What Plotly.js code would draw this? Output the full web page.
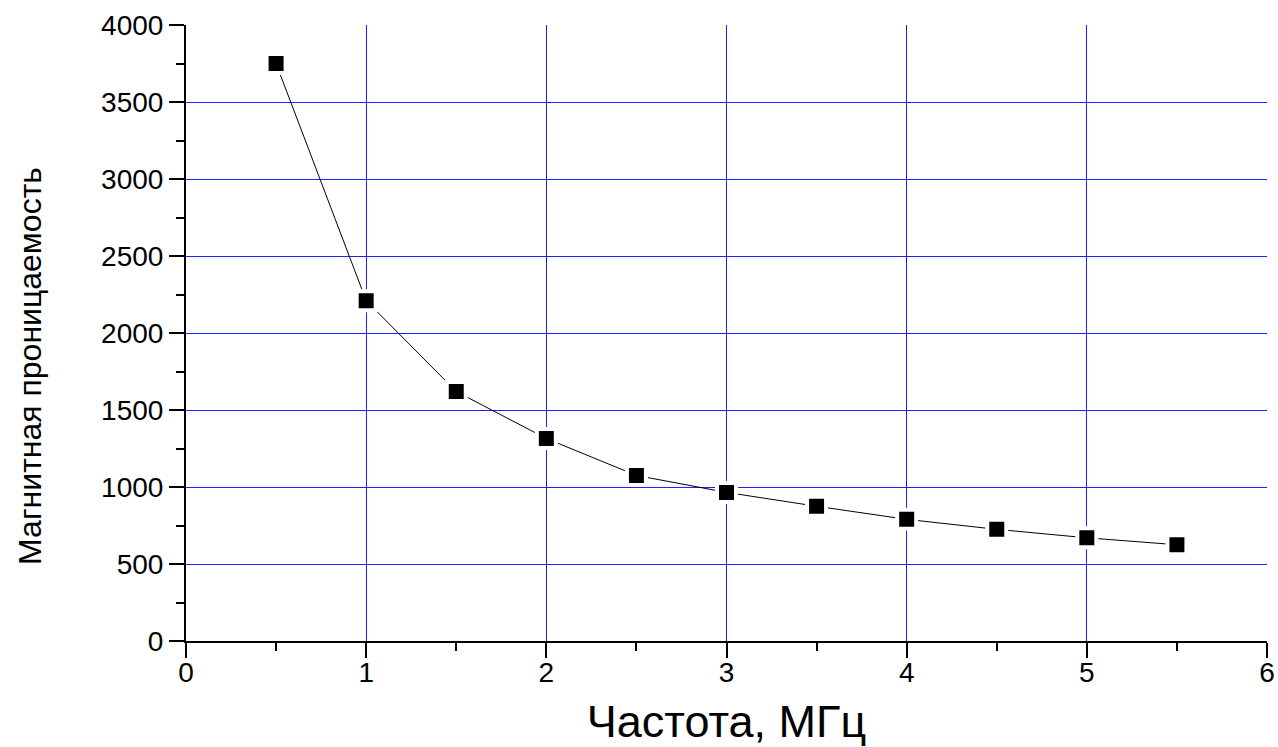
<!DOCTYPE html>
<html><head><meta charset="utf-8">
<script src="https://cdn.plot.ly/plotly-3.0.1.min.js"></script>
<style>html,body{margin:0;padding:0;background:#fff}#chart{width:1278px;height:747px}</style>
</head><body><div id="chart"></div>
<script>
const frequency = [0.5, 1.0, 1.5, 2.0, 2.5, 3.0, 3.5, 4.0, 4.5, 5.0, 5.5];
const permeability = [3750, 2210, 1620, 1315, 1075, 965, 875, 790, 725, 670, 625];
const xTitle = 'Частота, МГц';
const yTitle = 'Магнитная проницаемость';

const font = '"Liberation Sans", Arial, sans-serif';
Plotly.newPlot('chart', [{
  x: frequency, y: permeability, type: 'scatter', mode: 'lines+markers',
  line: {color: '#000', width: 1},
  marker: {symbol: 'square', size: 19, color: '#000', line: {color: '#fff', width: 4}},
  cliponaxis: false, showlegend: false
}], {
  width: 1278, height: 747,
  margin: {l: 186, r: 11, t: 25, b: 106},
  paper_bgcolor: '#fff', plot_bgcolor: '#fff',
  xaxis: {
    range: [0, 6], dtick: 1, tick0: 0, showgrid: true, gridcolor: '#2020ff', gridwidth: 1,
    zeroline: false, showline: true, linecolor: '#000', linewidth: 2,
    ticks: 'outside', ticklen: 15, tickwidth: 2, tickcolor: '#000', ticklabelstandoff: -10,
    minor: {dtick: 0.5, ticks: 'outside', ticklen: 8, tickwidth: 2, tickcolor: '#000', showgrid: false},
    tickfont: {family: font, size: 28, color: '#000'},
    title: {text: xTitle, font: {family: font, size: 45, color: '#000'}, standoff: 22}
  },
  yaxis: {
    range: [0, 4000], dtick: 500, tick0: 0, showgrid: true, gridcolor: '#2020ff', gridwidth: 1,
    zeroline: false, showline: true, linecolor: '#000', linewidth: 2,
    ticks: 'outside', ticklen: 15, tickwidth: 2, tickcolor: '#000',
    minor: {dtick: 250, ticks: 'outside', ticklen: 8, tickwidth: 2, tickcolor: '#000', showgrid: false},
    tickfont: {family: font, size: 28, color: '#000'}
  },
  annotations: [{
    text: yTitle, textangle: -90, showarrow: false,
    xref: 'paper', yref: 'paper', x: -0.145, y: 0.447, xanchor: 'center', yanchor: 'middle',
    font: {family: font, size: 32, color: '#000'}
  }]
}, {displayModeBar: false, staticPlot: true});
</script></body></html>
